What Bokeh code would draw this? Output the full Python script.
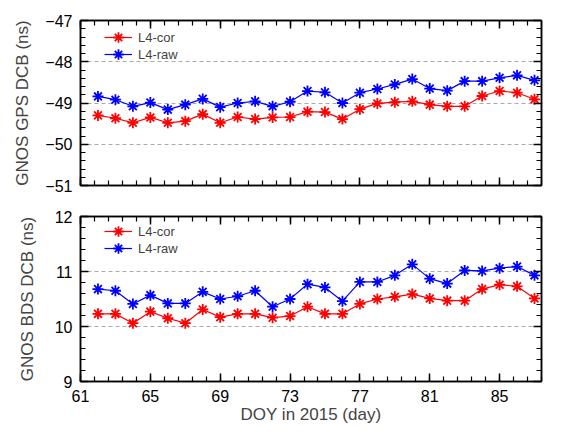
from bokeh.plotting import figure
from bokeh.models import FixedTicker, LinearAxis, Range1d, CustomLabelingPolicy, Legend, LegendItem
from bokeh.layouts import column
from bokeh.embed import file_html
from bokeh.resources import INLINE

# ---------------- data ----------------
doy = [62, 63, 64, 65, 66, 67, 68, 69, 70, 71, 72, 73, 74,
       75, 76, 77, 78, 79, 80, 81, 82, 83, 84, 85, 86, 87]

gps_cor = [-49.30, -49.37, -49.48, -49.35, -49.48, -49.44, -49.27, -49.48, -49.34, -49.39, -49.35, -49.34, -49.21,
           -49.22, -49.39, -49.15, -49.01, -48.98, -48.96, -49.04, -49.08, -49.08, -48.83, -48.71, -48.75, -48.91]
gps_raw = [-48.84, -48.92, -49.08, -48.99, -49.16, -49.04, -48.90, -49.10, -49.00, -48.96, -49.08, -48.97, -48.71,
           -48.74, -49.00, -48.75, -48.66, -48.55, -48.42, -48.65, -48.70, -48.47, -48.47, -48.39, -48.33, -48.45]

bds_cor = [10.23, 10.23, 10.06, 10.27, 10.15, 10.06, 10.31, 10.17, 10.23, 10.23, 10.16, 10.19, 10.36,
           10.23, 10.23, 10.41, 10.50, 10.54, 10.59, 10.51, 10.47, 10.47, 10.68, 10.76, 10.73, 10.51]
bds_raw = [10.68, 10.65, 10.41, 10.57, 10.42, 10.42, 10.63, 10.50, 10.55, 10.65, 10.36, 10.50, 10.77,
           10.71, 10.46, 10.81, 10.81, 10.93, 11.13, 10.87, 10.78, 11.02, 11.01, 11.06, 11.09, 10.93]

x_major = [61, 65, 69, 73, 77, 81, 85]
x_minor = [61.0, 61.8, 62.6, 63.4, 64.2, 65.0, 65.8, 66.6, 67.4, 68.2, 69.0, 69.8, 70.6, 71.4, 72.2, 73.0,
           73.8, 74.6, 75.4, 76.2, 77.0, 77.8, 78.6, 79.4, 80.2, 81.0, 81.8, 82.6, 83.4, 84.2, 85.0, 85.8,
           86.6, 87.4]
gps_major = [-51, -50, -49, -48, -47]
bds_major = [9, 10, 11, 12]

series_labels = ["L4-cor", "L4-raw"]
x_title = "DOY in 2015 (day)"
gps_title = "GNOS GPS DCB (ns)"
bds_title = "GNOS BDS DCB (ns)"

FONT = "Liberation Sans"
RED = "#ff0000"
BLUE = "#0000ff"


def minor_list(lo, hi, step):
    out = []
    v = lo
    while v <= hi + 1e-9:
        out.append(round(v, 6))
        v += step
    return out


def style_axis(ax, ticker, show_labels):
    ax.ticker = ticker
    ax.axis_line_color = "black"
    ax.axis_line_width = 1.5
    ax.major_tick_in = 8
    ax.major_tick_out = 0
    ax.minor_tick_in = 5
    ax.minor_tick_out = 0
    ax.major_tick_line_color = "black"
    ax.major_tick_line_width = 1.5
    ax.minor_tick_line_color = "black"
    ax.minor_tick_line_width = 1.2
    if show_labels:
        ax.major_label_text_font = FONT
        ax.major_label_text_font_size = "16px"
        ax.major_label_text_color = "black"
        ax.major_label_standoff = 8
    else:
        ax.major_label_policy = CustomLabelingPolicy(code="for (const i of indices) { if (false) yield i }")
        ax.major_label_standoff = 0


def panel(cor, raw, ylo, yhi, ymajor, ytitle, show_x, height, mb_top, mb_bottom, ylab_standoff, leg_y):
    p = figure(width=563, height=height, x_range=Range1d(61, 87.4), y_range=Range1d(ylo, yhi),
               output_backend="svg", toolbar_location=None,
               min_border_left=80, min_border_right=4, min_border_top=mb_top, min_border_bottom=mb_bottom)
    p.outline_line_color = "black"
    p.outline_line_width = 1.5
    p.background_fill_color = None
    p.border_fill_color = None

    xt = FixedTicker(ticks=x_major, minor_ticks=x_minor)
    yt = FixedTicker(ticks=ymajor, minor_ticks=minor_list(ylo, yhi, 0.2))

    style_axis(p.xaxis[0], xt, show_x)
    style_axis(p.yaxis[0], yt, True)
    p.yaxis[0].axis_label = ytitle
    p.yaxis[0].axis_label_text_font = FONT
    p.yaxis[0].axis_label_text_font_size = "17px"
    p.yaxis[0].axis_label_text_font_style = "normal"
    p.yaxis[0].axis_label_standoff = ylab_standoff
    if show_x:
        p.xaxis[0].axis_label = x_title
        p.xaxis[0].axis_label_text_font = FONT
        p.xaxis[0].axis_label_text_font_size = "17px"
        p.xaxis[0].axis_label_text_font_style = "normal"
        p.xaxis[0].axis_label_standoff = 0

    top_ax = LinearAxis()
    style_axis(top_ax, FixedTicker(ticks=x_major, minor_ticks=x_minor), False)
    p.add_layout(top_ax, "above")
    right_ax = LinearAxis()
    style_axis(right_ax, FixedTicker(ticks=ymajor, minor_ticks=minor_list(ylo, yhi, 0.2)), False)
    p.add_layout(right_ax, "right")

    p.xgrid.visible = False
    p.ygrid.ticker = FixedTicker(ticks=ymajor)
    p.ygrid.grid_line_color = "#aaaaaa"
    p.ygrid.grid_line_dash = "4 3"
    p.ygrid.grid_line_width = 1

    for i, (vals, col, lab) in enumerate([(cor, RED, series_labels[0]), (raw, BLUE, series_labels[1])]):
        rl = p.line(doy, vals, line_color=col, line_width=1.2)
        rs = p.scatter(doy, vals, marker="asterisk", size=11, line_color=col, line_width=1.8)
        lg = Legend(items=[LegendItem(label=lab, renderers=[rl, rs])],
                    location=(24, leg_y - 17 * i))
        lg.border_line_alpha = 0
        lg.background_fill_alpha = 0
        lg.glyph_width = 28
        lg.glyph_height = 26
        lg.label_height = 17
        lg.label_standoff = 6
        lg.label_text_font = FONT
        lg.label_text_font_size = "13px"
        lg.padding = 0
        lg.margin = 0
        lg.spacing = 0
        p.add_layout(lg, "center")
    return p


p1 = panel(gps_cor, gps_raw, -51, -47, gps_major, gps_title, False, 199, 20, 14, 10, 135)
p2 = panel(bds_cor, bds_raw, 9, 12, bds_major, bds_title, True, 235, 17, 53, 15, 137)

layout = column(p1, p2, spacing=0)
open("out.html", "w").write(file_html(layout, INLINE))
